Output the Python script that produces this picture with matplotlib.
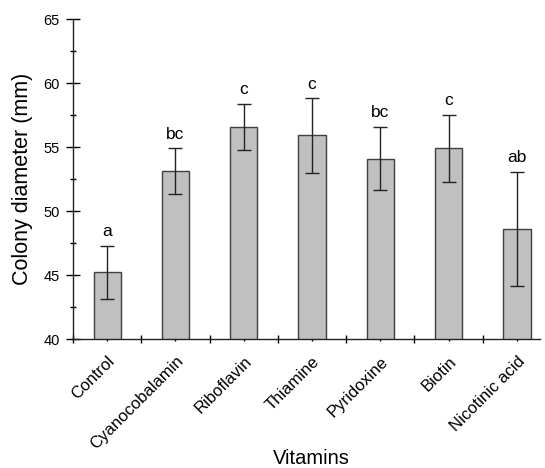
import matplotlib.pyplot as plt
import numpy as np

plt.rcParams['font.family'] = ['Liberation Sans', 'DejaVu Sans']

vitamins = ['Control', 'Cyanocobalamin', 'Riboflavin', 'Thiamine',
            'Pyridoxine', 'Biotin', 'Nicotinic acid']
diameter = [45.2, 53.1, 56.55, 55.9, 54.1, 54.9, 48.6]
errors = [2.1, 1.8, 1.8, 2.9, 2.45, 2.6, 4.45]
letters = ['a', 'bc', 'c', 'c', 'bc', 'c', 'ab']

fig = plt.figure(figsize=(5.45, 4.68), dpi=100)
ax = fig.add_axes([0.134, 0.2756, 0.857, 0.6838])

x = np.arange(len(vitamins))
ax.bar(x, diameter, width=0.4, color='#c0c0c0', edgecolor='#404040',
       linewidth=1.0, zorder=2)
ax.errorbar(x, diameter, yerr=errors, fmt='none', ecolor='#222222',
            elinewidth=1.0, capsize=4.7, capthick=1.0, zorder=3)

for xi, d, e, lab in zip(x, diameter, errors, letters):
    ax.annotate(lab, (xi, d + e), xytext=(0, 7), textcoords='offset points',
                ha='center', va='baseline', fontsize=12.5)

ax.set_xlim(-0.5, 6.34)
ax.set_ylim(40, 65)
ax.set_yticks(np.arange(40, 66, 5))
ax.set_yticks(np.arange(40, 65, 2.5), minor=True)
ax.set_xticks(x)
ax.set_xticklabels(vitamins, rotation=45, ha='right', rotation_mode='anchor',
                   fontsize=12)
ax.set_xticks(np.arange(-0.5, 6.5, 1), minor=True)

ax.tick_params(axis='y', which='major', direction='inout', length=9.4,
               width=1, labelsize=10.5, pad=5)
ax.tick_params(axis='y', which='minor', direction='inout', length=5, width=1)
ax.tick_params(axis='x', which='major', direction='out', length=1.5,
               width=1, pad=9)
ax.tick_params(axis='x', which='minor', direction='inout', length=5.8, width=1)

for side in ['top', 'right']:
    ax.spines[side].set_visible(False)
for side in ['left', 'bottom']:
    ax.spines[side].set_linewidth(1.0)
    ax.spines[side].set_color('#222222')

ax.set_ylabel('Colony diameter (mm)', fontsize=15.5, labelpad=7.5)
ax.set_xlabel('Vitamins', fontsize=14.5)
# the x label sits between the slanted tick labels, as in the original
ax.xaxis.set_label_coords(0.511, -0.344)

fig.savefig('out.png', dpi=100)
